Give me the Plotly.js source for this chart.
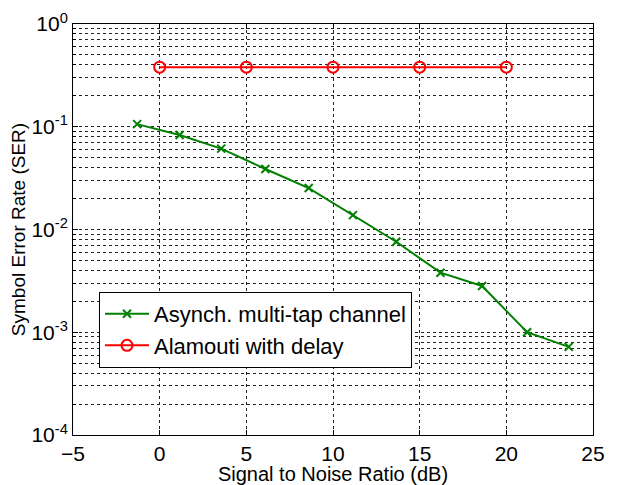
<!DOCTYPE html>
<html>
<head>
<meta charset="utf-8">
<script src="https://cdn.plot.ly/plotly-3.0.1.min.js"></script>
<style>html,body{margin:0;padding:0;background:#fff;}#chart{width:619px;height:485px;}</style>
</head>
<body>
<div id="chart"></div>
<script>
const asyncSNR = [-1.3, 1.15, 3.55, 6.1, 8.6, 11.15, 13.65, 16.2, 18.6, 21.2, 23.6];
const asyncSER = [0.106, 0.0832, 0.0612, 0.0388, 0.0253, 0.0138, 0.0076, 0.0038, 0.00282, 0.00100, 0.00072];
const alamSNR = [0, 5, 10, 15, 20];
const alamSER = [0.38, 0.38, 0.38, 0.38, 0.38];
const xTicks = [-5, 0, 5, 10, 15, 20, 25];
const yTicks = [1e-4, 1e-3, 1e-2, 1e-1, 1];
const yTickText = ['10<sup>-4</sup>', '10<sup>-3</sup>', '10<sup>-2</sup>', '10<sup>-1</sup>', '10<sup>0</sup>'];

const traces = [
  {x: asyncSNR, y: asyncSER, name: 'Asynch. multi-tap channel', mode: 'lines+markers',
   line: {color: 'rgb(0,128,0)', width: 2}, marker: {symbol: 'x-thin', size: 8, line: {color: 'rgb(0,128,0)', width: 2}}},
  {x: alamSNR, y: alamSER, name: 'Alamouti with delay', mode: 'lines+markers',
   line: {color: 'rgb(255,0,0)', width: 2}, marker: {symbol: 'circle-open', size: 11, color: 'rgb(255,0,0)', line: {width: 2}}}
];

const layout = {
  width: 619, height: 485,
  margin: {l: 73, r: 26, t: 24, b: 50},
  paper_bgcolor: '#fff', plot_bgcolor: '#fff',
  font: {family: 'Arial, Liberation Sans, sans-serif', color: '#000', size: 19},
  showlegend: true,
  legend: {x: 0.05, y: 0.348, xanchor: 'left', yanchor: 'top', bgcolor: '#fff', bordercolor: '#000', borderwidth: 1,
           font: {size: 22}, tracegroupgap: 0, itemwidth: 44},
  xaxis: {
    range: [-5, 25], tickvals: xTicks, ticks: 'inside', ticklen: 5, tickcolor: '#000',
    showline: true, linecolor: '#000', linewidth: 1, mirror: 'ticks',
    showgrid: true, gridcolor: '#222', gridwidth: 1, griddash: '3px,3px', zeroline: false,
    tickfont: {size: 21},
    title: {text: 'Signal to Noise Ratio (dB)', font: {size: 20}, standoff: 0}
  },
  yaxis: {
    type: 'log', range: [-4, 0], tickvals: yTicks, ticktext: yTickText, ticks: 'inside', ticklen: 5, tickcolor: '#000',
    showline: true, linecolor: '#000', linewidth: 1, mirror: 'ticks',
    showgrid: true, gridcolor: '#222', gridwidth: 1, griddash: '3px,3px', zeroline: false,
    tickfont: {size: 21},
    minor: {dtick: 'D1', showgrid: true, gridcolor: '#222', gridwidth: 1, griddash: '3px,3px', ticks: 'inside', ticklen: 3, tickcolor: '#000'},
    title: {text: 'Symbol Error Rate (SER)', font: {size: 19}, standoff: 0}
  }
};
Plotly.newPlot('chart', traces, layout, {displayModeBar: false, staticPlot: true});
</script>
</body>
</html>
